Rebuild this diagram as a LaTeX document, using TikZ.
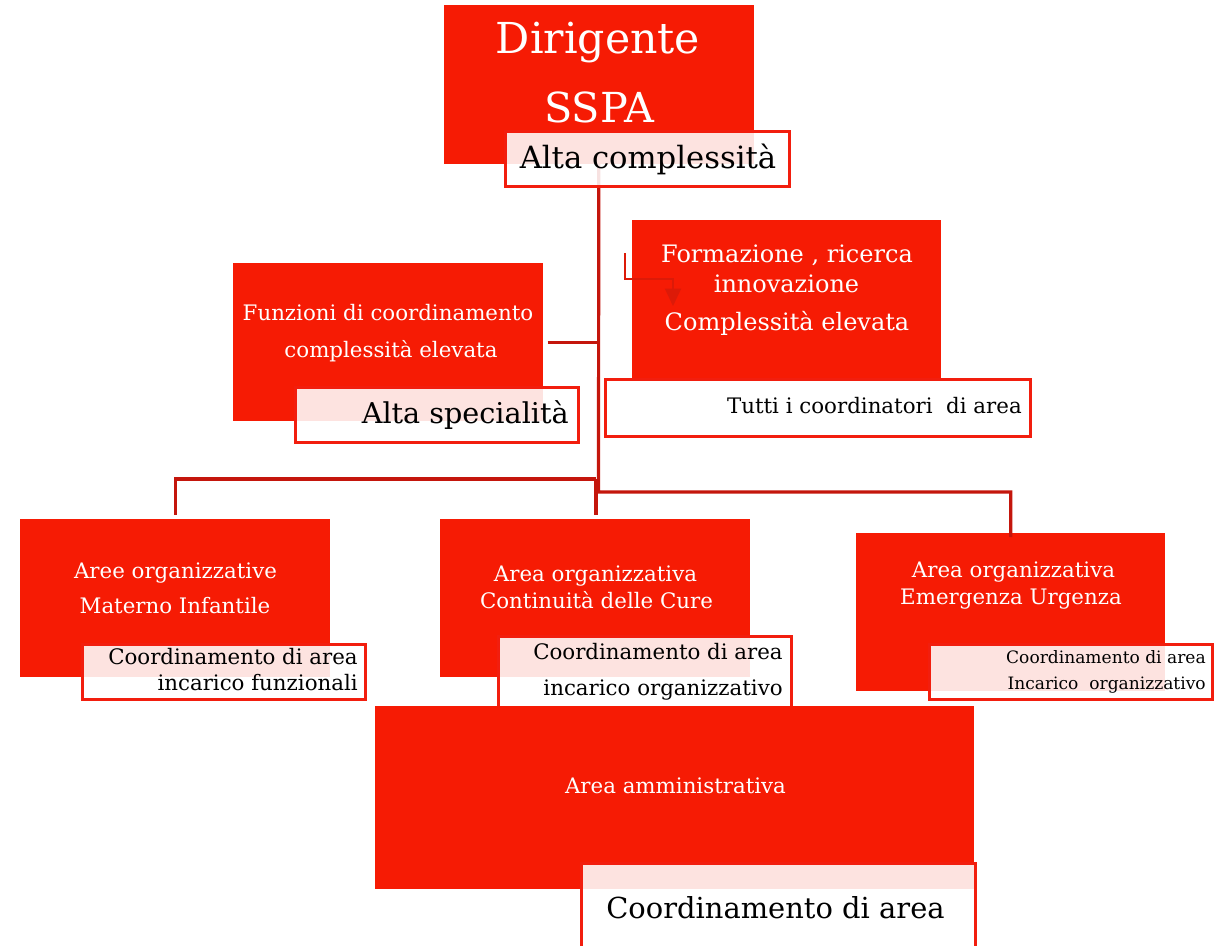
\documentclass[tikz,border=0pt]{standalone}
\usepackage{fontspec}
\setmainfont{DejaVu Serif}
\usetikzlibrary{arrows.meta}
\definecolor{boxred}{RGB}{246,27,4}
\definecolor{edgered}{RGB}{242,30,14}
\definecolor{linkred}{RGB}{196,22,12}
\definecolor{arrred}{RGB}{220,26,8}
\newcommand{\fsz}[1]{\fontsize{#1}{#1}\selectfont}
\begin{document}
\begin{tikzpicture}[x=0.75pt,y=-0.75pt,
  redbox/.style={fill=boxred, draw=none, inner sep=0pt, anchor=north west},
  tagbox/.style={fill=white, fill opacity=0.88, draw=edgered, draw opacity=1, line width=2.4pt, inner sep=0pt, anchor=north west},
  plainbox/.style={fill=white, draw=edgered, line width=2.4pt, inner sep=0pt, anchor=north west},
  link/.style={draw=linkred, line width=2.4pt},
  arrline/.style={draw=arrred, line width=1.1pt, -{Triangle[length=13pt,width=12pt]}},
  wt/.style={text=white, inner sep=0pt, anchor=base},
  bt/.style={text=black, inner sep=0pt, anchor=base},
  btr/.style={text=black, inner sep=0pt, anchor=base east}]
\clip (0,0) rectangle (1214,946);
\fill[white] (0,0) rectangle (1214,946);

% ---- boxes that carry the tree (drawn first so the links can refer to them)
\path node[redbox, minimum width=309*0.75pt, minimum height=158*0.75pt] (dir) at (444,5) {};
\path node[redbox, minimum width=310*0.75pt, minimum height=158*0.75pt] (funz) at (233,263) {};
\path node[redbox, minimum width=309*0.75pt, minimum height=158*0.75pt] (form) at (632,220) {};
\path node[redbox, minimum width=310*0.75pt, minimum height=158*0.75pt] (mat) at (20,519) {};
\path node[redbox, minimum width=310*0.75pt, minimum height=158*0.75pt] (cont) at (440,519) {};
\path node[redbox, minimum width=309*0.75pt, minimum height=158*0.75pt] (emer) at (856,533) {};

% ---- connectors
\coordinate (jL) at (596,479);
\coordinate (jR) at (598.5,492);
\draw[link] (dir.south) -- (jR) -| ([yshift=-3pt]emer.north);
\draw[link] (jL) -| ([yshift=3pt]mat.north);
\draw[link] (jL) -- ([yshift=3pt]jL |- cont.north);
\draw[link, shorten <=3pt] (funz.east) -- (funz.east -| dir.south);

% ---- redraw the red box over the link end
\fill[boxred] (dir.north west) rectangle (dir.south east);

% ---- Dirigente
\node[tagbox, minimum width=284*0.75pt, minimum height=55*0.75pt] (altac) at (504,130) {};
\node[wt] (t1) at (598,53) {\fsz{32}Dirigente};
\node[wt] (t2) at (599,122) {\fsz{31}SSPA};
\node[bt] (t3) at (648,168) {\fsz{23}Alta complessità};

% ---- Funzioni
\node[tagbox, minimum width=283*0.75pt, minimum height=55*0.75pt] (altas) at (294,386) {};
\node[wt] (t4) at (388,320) {\fsz{16}Funzioni di coordinamento};
\node[wt] (t5) at (391,357) {\fsz{16}complessità elevata};
\node[btr] (t6) at (569,423) {\fsz{21.5}Alta specialità};

% ---- Formazione
\coordinate (aS) at (625,253);
\coordinate (aK) at (673,279);
\coordinate (aE) at (673,306);
\draw[arrline] (aS) |- (aK) -- (aE);
\node[plainbox, minimum width=425*0.75pt, minimum height=57*0.75pt] (tutti) at (604,378) {};
\node[wt] (t7) at (787,262) {\fsz{18}Formazione , ricerca};
\node[wt] (t8) at (786.5,292) {\fsz{18}innovazione};
\node[wt] (t9) at (787,330) {\fsz{18}Complessità elevata};
\node[btr] (t10) at (1022,413) {\fsz{16}Tutti i coordinatori\ \ di area};

% ---- Materno Infantile
\node[tagbox, minimum width=283*0.75pt, minimum height=55*0.75pt] (cmat) at (81,643) {};
\node[wt] (t11) at (175.5,578) {\fsz{16}Aree organizzative};
\node[wt] (t12) at (175,613) {\fsz{16}Materno Infantile};
\node[btr] (t13) at (358,664) {\fsz{16}Coordinamento di area};
\node[btr] (t14) at (358,690) {\fsz{16}incarico funzionali};

% ---- Continuita
\node[tagbox, minimum width=293*0.75pt, minimum height=80*0.75pt] (ccont) at (497,635) {};
\node[wt] (t15) at (595.5,581) {\fsz{16}Area organizzativa};
\node[wt] (t16) at (596.5,608) {\fsz{16}Continuità delle Cure};
\node[btr] (t17) at (783,659) {\fsz{16}Coordinamento di area};
\node[btr] (t18) at (783,695) {\fsz{16}incarico organizzativo};

% ---- Emergenza
\node[tagbox, minimum width=283*0.75pt, minimum height=55*0.75pt] (cemer) at (928,643) {};
\node[wt] (t19) at (1013.5,577) {\fsz{16}Area organizzativa};
\node[wt] (t20) at (1011,604) {\fsz{16}Emergenza Urgenza};
\node[btr] (t21) at (1206,663) {\fsz{12.8}Coordinamento di area};
\node[btr] (t22) at (1206,689) {\fsz{12.8}Incarico\ \ organizzativo};

% ---- Area amministrativa
\node[redbox, minimum width=599*0.75pt, minimum height=183*0.75pt] (amm) at (375,706) {};
\node[tagbox, minimum width=394*0.75pt, minimum height=100*0.75pt] (camm) at (580,862) {};
\node[wt] (t23) at (675.5,793) {\fsz{16}Area amministrativa};
\node[bt] (t24) at (775.5,918) {\fsz{21.7}Coordinamento di area};
\end{tikzpicture}
\end{document}
